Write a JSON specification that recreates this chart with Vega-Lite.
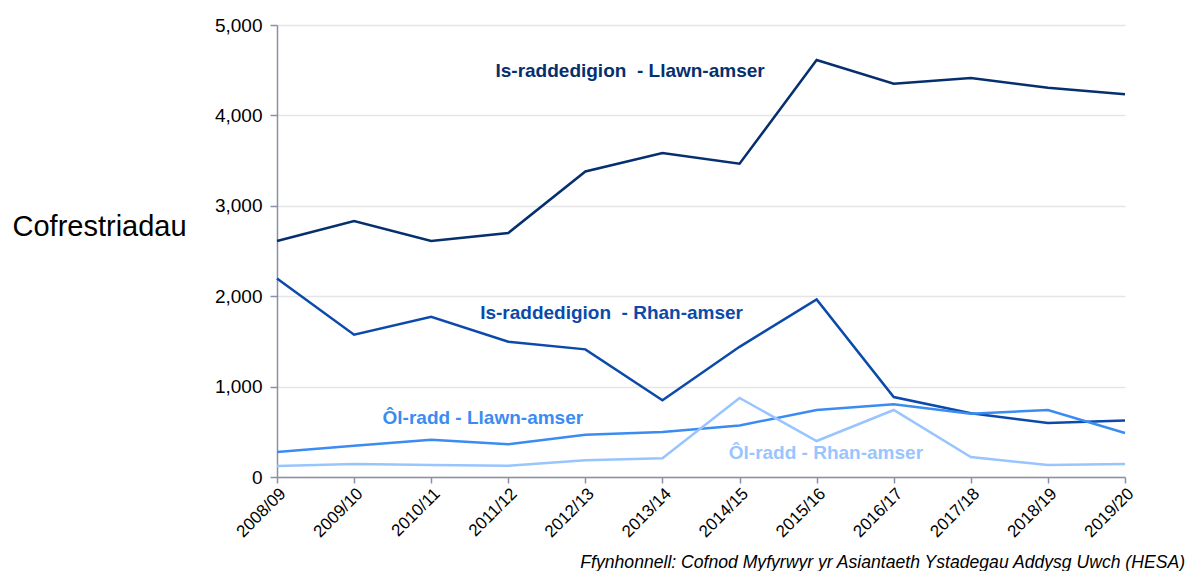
{
  "$schema": "https://vega.github.io/schema/vega-lite/v6.json",
  "width": 848,
  "height": 452,
  "autosize": {"type": "none"},
  "padding": {"left": 277, "top": 25, "right": 62, "bottom": 94},
  "background": "white",
  "config": {
    "font": "Liberation Sans",
    "view": {"stroke": null}
  },
  "title": {
    "text": "Ffynhonnell: Cofnod Myfyrwyr yr Asiantaeth Ystadegau Addysg Uwch (HESA)",
    "orient": "bottom",
    "anchor": "end",
    "frame": "group",
    "dx": 60,
    "offset": 14,
    "fontSize": 17.6,
    "fontStyle": "italic",
    "fontWeight": "normal",
    "color": "#000000",
    "font": "Liberation Sans"
  },
  "datasets": {
    "series": [
      {"series": "Is-raddedigion - Llawn-amser", "i": 0, "year": "2008/09", "value": 2611},
      {"series": "Is-raddedigion - Llawn-amser", "i": 1, "year": "2009/10", "value": 2832},
      {"series": "Is-raddedigion - Llawn-amser", "i": 2, "year": "2010/11", "value": 2611},
      {"series": "Is-raddedigion - Llawn-amser", "i": 3, "year": "2011/12", "value": 2700},
      {"series": "Is-raddedigion - Llawn-amser", "i": 4, "year": "2012/13", "value": 3380},
      {"series": "Is-raddedigion - Llawn-amser", "i": 5, "year": "2013/14", "value": 3584},
      {"series": "Is-raddedigion - Llawn-amser", "i": 6, "year": "2014/15", "value": 3465},
      {"series": "Is-raddedigion - Llawn-amser", "i": 7, "year": "2015/16", "value": 4613},
      {"series": "Is-raddedigion - Llawn-amser", "i": 8, "year": "2016/17", "value": 4350},
      {"series": "Is-raddedigion - Llawn-amser", "i": 9, "year": "2017/18", "value": 4414},
      {"series": "Is-raddedigion - Llawn-amser", "i": 10, "year": "2018/19", "value": 4305},
      {"series": "Is-raddedigion - Llawn-amser", "i": 11, "year": "2019/20", "value": 4235},
      {"series": "Is-raddedigion - Rhan-amser", "i": 0, "year": "2008/09", "value": 2195},
      {"series": "Is-raddedigion - Rhan-amser", "i": 1, "year": "2009/10", "value": 1574},
      {"series": "Is-raddedigion - Rhan-amser", "i": 2, "year": "2010/11", "value": 1773},
      {"series": "Is-raddedigion - Rhan-amser", "i": 3, "year": "2011/12", "value": 1497},
      {"series": "Is-raddedigion - Rhan-amser", "i": 4, "year": "2012/13", "value": 1412},
      {"series": "Is-raddedigion - Rhan-amser", "i": 5, "year": "2013/14", "value": 848},
      {"series": "Is-raddedigion - Rhan-amser", "i": 6, "year": "2014/15", "value": 1440},
      {"series": "Is-raddedigion - Rhan-amser", "i": 7, "year": "2015/16", "value": 1965},
      {"series": "Is-raddedigion - Rhan-amser", "i": 8, "year": "2016/17", "value": 885},
      {"series": "Is-raddedigion - Rhan-amser", "i": 9, "year": "2017/18", "value": 705},
      {"series": "Is-raddedigion - Rhan-amser", "i": 10, "year": "2018/19", "value": 597},
      {"series": "Is-raddedigion - Rhan-amser", "i": 11, "year": "2019/20", "value": 625},
      {"series": "Ôl-radd - Llawn-amser", "i": 0, "year": "2008/09", "value": 276},
      {"series": "Ôl-radd - Llawn-amser", "i": 1, "year": "2009/10", "value": 346},
      {"series": "Ôl-radd - Llawn-amser", "i": 2, "year": "2010/11", "value": 413},
      {"series": "Ôl-radd - Llawn-amser", "i": 3, "year": "2011/12", "value": 362},
      {"series": "Ôl-radd - Llawn-amser", "i": 4, "year": "2012/13", "value": 468},
      {"series": "Ôl-radd - Llawn-amser", "i": 5, "year": "2013/14", "value": 498},
      {"series": "Ôl-radd - Llawn-amser", "i": 6, "year": "2014/15", "value": 570},
      {"series": "Ôl-radd - Llawn-amser", "i": 7, "year": "2015/16", "value": 741},
      {"series": "Ôl-radd - Llawn-amser", "i": 8, "year": "2016/17", "value": 805},
      {"series": "Ôl-radd - Llawn-amser", "i": 9, "year": "2017/18", "value": 700},
      {"series": "Ôl-radd - Llawn-amser", "i": 10, "year": "2018/19", "value": 741},
      {"series": "Ôl-radd - Llawn-amser", "i": 11, "year": "2019/20", "value": 487},
      {"series": "Ôl-radd - Rhan-amser", "i": 0, "year": "2008/09", "value": 122},
      {"series": "Ôl-radd - Rhan-amser", "i": 1, "year": "2009/10", "value": 144},
      {"series": "Ôl-radd - Rhan-amser", "i": 2, "year": "2010/11", "value": 133},
      {"series": "Ôl-radd - Rhan-amser", "i": 3, "year": "2011/12", "value": 125},
      {"series": "Ôl-radd - Rhan-amser", "i": 4, "year": "2012/13", "value": 185},
      {"series": "Ôl-radd - Rhan-amser", "i": 5, "year": "2013/14", "value": 207},
      {"series": "Ôl-radd - Rhan-amser", "i": 6, "year": "2014/15", "value": 874},
      {"series": "Ôl-radd - Rhan-amser", "i": 7, "year": "2015/16", "value": 398},
      {"series": "Ôl-radd - Rhan-amser", "i": 8, "year": "2016/17", "value": 741},
      {"series": "Ôl-radd - Rhan-amser", "i": 9, "year": "2017/18", "value": 221},
      {"series": "Ôl-radd - Rhan-amser", "i": 10, "year": "2018/19", "value": 133},
      {"series": "Ôl-radd - Rhan-amser", "i": 11, "year": "2019/20", "value": 144}
    ],
    "labels": [
      {"series": "Is-raddedigion - Llawn-amser", "label": "Is-raddedigion\u00a0 - Llawn-amser", "i": 4.58, "value": 4491},
      {"series": "Is-raddedigion - Rhan-amser", "label": "Is-raddedigion\u00a0 - Rhan-amser", "i": 4.34, "value": 1814},
      {"series": "Ôl-radd - Llawn-amser", "label": "Ôl-radd - Llawn-amser", "i": 2.67, "value": 653},
      {"series": "Ôl-radd - Rhan-amser", "label": "Ôl-radd - Rhan-amser", "i": 7.12, "value": 265}
    ]
  },
  "encoding": {
    "x": {
      "field": "i",
      "type": "quantitative",
      "scale": {"domain": [0, 11], "nice": false, "zero": false},
      "axis": {
        "title": null,
        "values": [0, 1, 2, 3, 4, 5, 6, 7, 8, 9, 10, 11],
        "labelExpr": "['2008/09','2009/10','2010/11','2011/12','2012/13','2013/14','2014/15','2015/16','2016/17','2017/18','2018/19','2019/20'][datum.value]",
        "labelAngle": -45,
        "labelAlign": "right",
        "labelBaseline": "top",
        "labelFontSize": 17,
        "labelColor": "#000000",
        "labelPadding": 2,
        "labelFont": "Liberation Sans",
        "grid": false,
        "domainColor": "#8c90a6",
        "domainWidth": 1.5,
        "tickColor": "#8c90a6",
        "tickWidth": 1.5,
        "tickSize": 6,
        "labelOverlap": false,
        "labelFlush": false
      }
    },
    "y": {
      "field": "value",
      "type": "quantitative",
      "scale": {"domain": [0, 5000], "nice": false},
      "axis": {
        "title": "Cofrestriadau",
        "titleAngle": 0,
        "titleAlign": "left",
        "titleBaseline": "middle",
        "titleX": -265,
        "titleY": 201,
        "titleFontSize": 29,
        "titleFontWeight": "normal",
        "titleColor": "#000000",
        "titleFont": "Liberation Sans",
        "values": [0, 1000, 2000, 3000, 4000, 5000],
        "format": ",d",
        "labelFontSize": 19,
        "labelColor": "#000000",
        "labelPadding": 8,
        "labelFont": "Liberation Sans",
        "grid": true,
        "gridColor": "#e5e5e5",
        "gridWidth": 1.5,
        "domainColor": "#8c90a6",
        "domainWidth": 1.5,
        "tickColor": "#8c90a6",
        "tickWidth": 1.5,
        "tickSize": 7
      }
    },
    "color": {
      "field": "series",
      "type": "nominal",
      "scale": {
        "domain": ["Is-raddedigion - Llawn-amser", "Is-raddedigion - Rhan-amser", "Ôl-radd - Llawn-amser", "Ôl-radd - Rhan-amser"],
        "range": ["#062f6e", "#0b4aab", "#3a8cf2", "#99c5ff"]
      },
      "legend": null
    }
  },
  "layer": [
    {
      "data": {"name": "series"},
      "mark": {"type": "line", "strokeWidth": 2.5},
      "encoding": {"detail": {"field": "series", "type": "nominal"}}
    },
    {
      "data": {"name": "labels"},
      "mark": {"type": "text", "fontSize": 19, "fontWeight": "bold", "font": "Liberation Sans", "align": "center", "baseline": "middle"},
      "encoding": {"text": {"field": "label", "type": "nominal"}}
    }
  ]
}
